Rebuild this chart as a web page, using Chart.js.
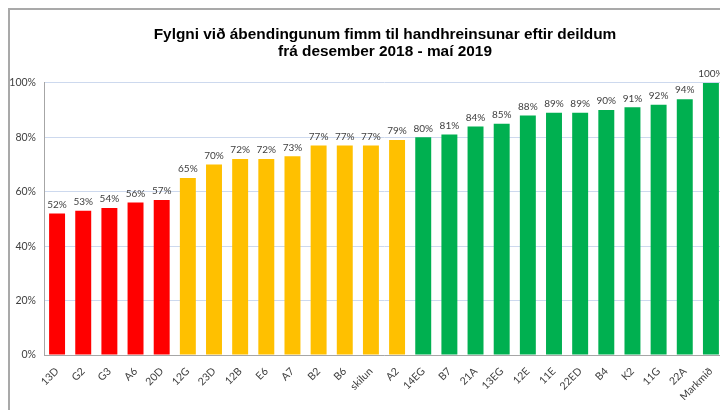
<!DOCTYPE html>
<html>
<head>
<meta charset="utf-8">
<script src="https://cdn.jsdelivr.net/npm/chart.js@4"></script>
<style>
  html, body { margin: 0; padding: 0; background: #fff; overflow: hidden; }
  #frame {
    position: absolute; left: 8px; top: 8px;
    width: 750px; height: 410px;
    border-left: 2px solid #a9a9a9; border-top: 2px solid #a9a9a9;
  }
  #wrap { position: relative; width: 750px; height: 400px; }
</style>
</head>
<body>
<div id="frame"><div id="wrap"><canvas id="chart"></canvas></div></div>
<script>
const departments = ['13D', 'G2', 'G3', 'A6', '20D', '12G', '23D', '12B', 'E6', 'A7', 'B2', 'B6', 'skilun', 'A2',
  '14EG', 'B7', '21A', '13EG', '12E', '11E', '22ED', 'B4', 'K2', '11G', '22A', 'Markmið']
const compliance = [52, 53, 54, 56, 57, 65, 70, 72, 72, 73, 77, 77, 77, 79,
  80, 81, 84, 85, 88, 89, 89, 90, 91, 92, 94, 100]
const yTicks = [0, 20, 40, 60, 80, 100]

const RED = '#ff0000'
const YELLOW = '#ffc000'
const GREEN = '#00b050'
const FONT = 'Lato, "Open Sans", sans-serif'

// helpers
const barColor = (v) => v < 60 ? RED : (v < 80 ? YELLOW : GREEN)

// draws the % value above every bar
const valueLabels = {
  id: 'valueLabels',
  afterDatasetsDraw(chart) {
    const { ctx } = chart
    const meta = chart.getDatasetMeta(0)
    ctx.save()
    ctx.font = '10px ' + FONT
    ctx.fillStyle = '#404040'
    ctx.textAlign = 'center'
    ctx.textBaseline = 'bottom'
    meta.data.forEach((bar, i) => {
      ctx.fillText(compliance[i] + '%', bar.x, bar.y - 4)
    })
    ctx.restore()
  }
}

const scales = {
  x: {
    grid: { display: false },
    border: { color: '#a6a6a6' },
    ticks: {
      color: '#404040',
      font: { family: FONT, size: 10.5 },
      minRotation: 45,
      maxRotation: 45,
      autoSkip: false,
      padding: 2
    },
    afterFit: (s) => { s.height = 45 }
  },
  y: {
    min: 0,
    max: 100,
    afterBuildTicks: (s) => { s.ticks = yTicks.map(v => ({ value: v })) },
    grid: { color: '#cdd9ee', drawTicks: false },
    border: { color: '#a6a6a6' },
    ticks: {
      color: '#404040',
      font: { family: FONT, size: 10.5 },
      padding: 8,
      callback: (v) => v + '%'
    },
    afterFit: (s) => { s.width = 34 }
  },
  // empty right-hand axis, only keeps space free on the right
  spacer: {
    position: 'right',
    min: 0,
    max: 100,
    grid: { display: false },
    border: { display: false },
    ticks: { display: false },
    afterFit: (s) => { s.width = 36 }
  }
}

function createChart() {
  const ctx = document.getElementById('chart')
  const config = {
    type: 'bar',
    data: {
      labels: departments,
      datasets: [{
        data: compliance,
        backgroundColor: compliance.map(barColor),
        barPercentage: 0.61,
        categoryPercentage: 1
      }]
    },
    options: {
      responsive: true,
      maintainAspectRatio: false,
      animation: false,
      layout: { padding: { left: 0, right: 0, top: 0, bottom: 10 } },
      scales,
      plugins: {
        legend: { display: false },
        tooltip: { enabled: false },
        title: {
          display: true,
          text: ['Fylgni við ábendingunum fimm til handhreinsunar eftir deildum', 'frá desember 2018 - maí 2019'],
          color: '#000',
          font: { family: '"Liberation Sans", Arial, sans-serif', size: 15.4, weight: 'bold', lineHeight: 1.1 },
          padding: { top: 16, bottom: 23 }
        }
      }
    },
    plugins: [valueLabels]
  }
  new Chart(ctx, config)
}
createChart()
</script>
</body>
</html>
